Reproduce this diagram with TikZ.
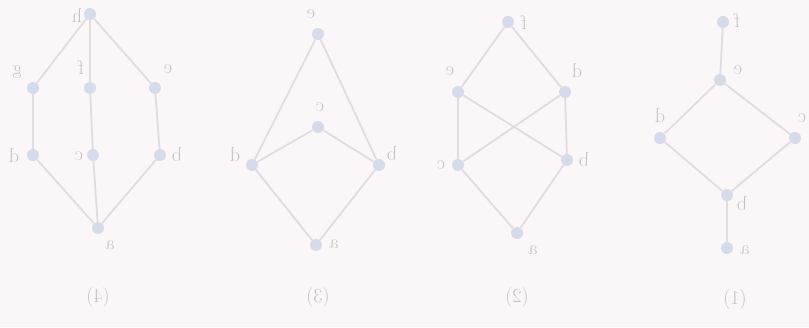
\documentclass[tikz,border=0pt]{standalone}
\usepackage{graphicx}
\definecolor{bgc}{HTML}{FBF6F7}
\definecolor{edgec}{HTML}{E2DCE1}
\definecolor{dotc}{HTML}{D6DBEC}
\definecolor{lblc}{HTML}{C6C0C5}
\pgfdeclarelayer{paper}
\pgfdeclarelayer{back}
\pgfsetlayers{paper,back,main}
\begin{document}
\begin{tikzpicture}[x=1pt,y=-1pt,
  dot/.style={circle,fill=dotc,inner sep=0pt,minimum size=12pt},
  lbl/.style={text=lblc,inner sep=0pt,font=\fontsize{20}{20}\selectfont},
  captxt/.style={text=lblc,inner sep=0pt,font=\fontsize{20}{20}\selectfont},
  edge/.style={draw=edgec,line width=1.8pt}]
\begin{pgfonlayer}{paper}
\fill[bgc] (0,0) rectangle (809,327);
\end{pgfonlayer}
\useasboundingbox (0,0) rectangle (809,327);
% ---- diagram (4)
\node[dot] (h4) at (90,14) {};
\node[dot] (g4) at (33,88) {};
\node[dot] (f4) at (90,88) {};
\node[dot] (e4) at (155,88) {};
\node[dot] (d4) at (33,155) {};
\node[dot] (c4) at (93,155) {};
\node[dot] (b4) at (160,155) {};
\node[dot] (a4) at (98,228) {};
\node[lbl] (lh4) at (77,16) {\reflectbox{h}};
\node[lbl] (lg4) at (17,72) {\reflectbox{g}};
\node[lbl] (lf4) at (81,67) {\reflectbox{f}};
\node[lbl] (le4) at (168,69) {\reflectbox{e}};
\node[lbl] (ld4) at (14,156) {\reflectbox{d}};
\node[lbl] (lc4) at (79,156) {\reflectbox{c}};
\node[lbl] (lb4) at (177,155) {\reflectbox{b}};
\node[lbl] (la4) at (110,245) {\reflectbox{a}};
\node[captxt] (cap4) at (98,298) {\reflectbox{(4)}};
\begin{pgfonlayer}{back}
\draw[edge] (h4)--(g4) (h4)--(f4) (h4)--(e4) (g4)--(d4) (f4)--(c4) (e4)--(b4)
  (d4)--(a4) (c4)--(a4) (b4)--(a4);
\end{pgfonlayer}
% ---- diagram (3)
\node[dot] (e3) at (318,34) {};
\node[dot] (c3) at (318,127) {};
\node[dot] (d3) at (252,165) {};
\node[dot] (b3) at (379,165) {};
\node[dot] (a3) at (316,245) {};
\node[lbl] (le3) at (311,14) {\reflectbox{e}};
\node[lbl] (lc3) at (320,107) {\reflectbox{c}};
\node[lbl] (ld3) at (235,155) {\reflectbox{d}};
\node[lbl] (lb3) at (392,154) {\reflectbox{b}};
\node[lbl] (la3) at (334,244) {\reflectbox{a}};
\node[captxt] (cap3) at (318,298) {\reflectbox{(3)}};
\begin{pgfonlayer}{back}
\draw[edge] (e3)--(d3) (e3)--(b3) (d3)--(c3) (c3)--(b3) (d3)--(a3) (b3)--(a3);
\end{pgfonlayer}
% ---- diagram (2)
\node[dot] (f2) at (508,22) {};
\node[dot] (e2) at (458,92) {};
\node[dot] (d2) at (565,92) {};
\node[dot] (c2) at (458,165) {};
\node[dot] (b2) at (567,160) {};
\node[dot] (a2) at (517,233) {};
\node[lbl] (lf2) at (524,22) {\reflectbox{f}};
\node[lbl] (le2) at (450,71) {\reflectbox{e}};
\node[lbl] (ld2) at (577,71) {\reflectbox{d}};
\node[lbl] (lc2) at (441,165) {\reflectbox{c}};
\node[lbl] (lb2) at (584,160) {\reflectbox{b}};
\node[lbl] (la2) at (533,250) {\reflectbox{a}};
\node[captxt] (cap2) at (517,298) {\reflectbox{(2)}};
\begin{pgfonlayer}{back}
\draw[edge] (f2)--(e2) (f2)--(d2) (e2)--(c2) (d2)--(b2) (e2)--(b2) (d2)--(c2)
  (c2)--(a2) (b2)--(a2);
\end{pgfonlayer}
% ---- diagram (1)
\node[dot] (f1) at (723,22) {};
\node[dot] (e1) at (720,80) {};
\node[dot] (d1) at (660,138) {};
\node[dot] (c1) at (795,138) {};
\node[dot] (b1) at (727,195) {};
\node[dot] (a1) at (727,248) {};
\node[lbl] (lf1) at (737,20) {\reflectbox{f}};
\node[lbl] (le1) at (738,70) {\reflectbox{e}};
\node[lbl] (ld1) at (660,116) {\reflectbox{d}};
\node[lbl] (lc1) at (802,118) {\reflectbox{c}};
\node[lbl] (lb1) at (742,204) {\reflectbox{b}};
\node[lbl] (la1) at (745,250) {\reflectbox{a}};
\node[captxt] (cap1) at (735,300) {\reflectbox{(1)}};
\begin{pgfonlayer}{back}
\draw[edge] (f1)--(e1) (e1)--(d1) (e1)--(c1) (d1)--(b1) (c1)--(b1) (b1)--(a1);
\end{pgfonlayer}
\end{tikzpicture}
\end{document}
